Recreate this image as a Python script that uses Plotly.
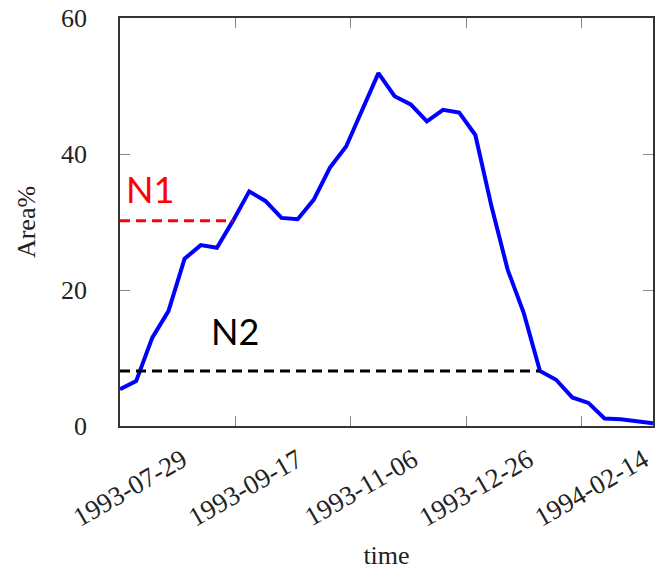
import plotly.graph_objects as go

# ---- data ----
dates = ["1993-06-09", "1993-06-16", "1993-06-23", "1993-06-30", "1993-07-07", "1993-07-14",
         "1993-07-21", "1993-07-28", "1993-08-04", "1993-08-11", "1993-08-18", "1993-08-25",
         "1993-09-01", "1993-09-08", "1993-09-15", "1993-09-22", "1993-09-29", "1993-10-06",
         "1993-10-13", "1993-10-20", "1993-10-27", "1993-11-03", "1993-11-10", "1993-11-17",
         "1993-11-24", "1993-12-01", "1993-12-08", "1993-12-15", "1993-12-22", "1993-12-29",
         "1994-01-05", "1994-01-12", "1994-01-19", "1994-01-26"]
area = [5.4, 6.6, 13.0, 16.9, 24.6, 26.6, 26.2, 30.2, 34.5, 33.1, 30.6, 30.4,
        33.3, 38.0, 41.1, 46.5, 51.9, 48.5, 47.3, 44.8, 46.5, 46.1, 42.8, 32.3,
        23.0, 16.6, 8.1, 6.8, 4.2, 3.4, 1.1, 1.0, 0.7, 0.4]

n1_x = ["1993-06-09", "1993-07-28"]
n1_y = [30.2, 30.2]
n2_x = ["1993-06-09", "1993-12-08"]
n2_y = [8.1, 8.1]

tick_dates = ["1993-07-29", "1993-09-17", "1993-11-06", "1993-12-26", "1994-02-14"]
label_pos = ["1993-07-06", "1993-08-25", "1993-10-14", "1993-12-03", "1994-01-22"]
y_ticks = [0, 20, 40, 60]

x_range = ["1993-06-09", "1994-01-26"]
y_range = [0, 60]

SERIF = "Liberation Serif, Times New Roman, serif"
TXT = "#222222"

fig = go.Figure()
fig.add_trace(go.Scatter(x=dates, y=area, mode="lines",
                         line=dict(color="#0000FF", width=4), showlegend=False))
fig.add_trace(go.Scatter(x=n1_x, y=n1_y, mode="lines",
                         line=dict(color="#FF0000", width=3, dash="10px,6px"), showlegend=False))
fig.add_trace(go.Scatter(x=n2_x, y=n2_y, mode="lines",
                         line=dict(color="#000000", width=3, dash="10px,6px"), showlegend=False))
# invisible trace so that the label axis exists
fig.add_trace(go.Scatter(x=[dates[0]], y=[None], xaxis="x2", mode="lines",
                         showlegend=False, hoverinfo="skip"))

fig.add_annotation(x="1993-06-22", y=34.9, xref="x", yref="y", text="N1", showarrow=False,
                   font=dict(family="Lato", size=36, color="#FF0000"))
fig.add_annotation(x="1993-07-29", y=14.0, xref="x", yref="y", text="N2", showarrow=False,
                   font=dict(family="Lato", size=36, color="#000000"))

fig.update_layout(
    width=662, height=570, autosize=False,
    margin=dict(l=120, r=9, t=18, b=144),
    plot_bgcolor="white", paper_bgcolor="white",
    xaxis=dict(type="date", range=x_range, tickvals=tick_dates, showticklabels=False,
               ticks="inside", ticklen=10, tickwidth=1, tickcolor="#888888",
               showline=True, linecolor="#333333", linewidth=1.5, mirror="ticks",
               showgrid=False, zeroline=False, automargin=False),
    xaxis2=dict(type="date", range=x_range, overlaying="x", side="bottom", anchor="y",
                tickvals=label_pos, ticktext=tick_dates, tickangle=-30,
                ticks="", showline=False, showgrid=False, zeroline=False,
                ticklabelstandoff=12, automargin=False,
                tickfont=dict(family=SERIF, size=27, color=TXT),
                title=dict(text="time", font=dict(family=SERIF, size=26, color=TXT), standoff=22)),
    yaxis=dict(range=y_range, tickvals=y_ticks, ticks="inside", ticklen=10, tickwidth=1,
               tickcolor="#888888", showline=True, linecolor="#333333", linewidth=1.5,
               mirror="ticks", showgrid=False, zeroline=False, ticklabelstandoff=26,
               automargin=False,
               tickfont=dict(family=SERIF, size=26, color=TXT),
               title=dict(text="Area%", font=dict(family=SERIF, size=26, color=TXT), standoff=18)),
)

fig.write_html("out.html")
